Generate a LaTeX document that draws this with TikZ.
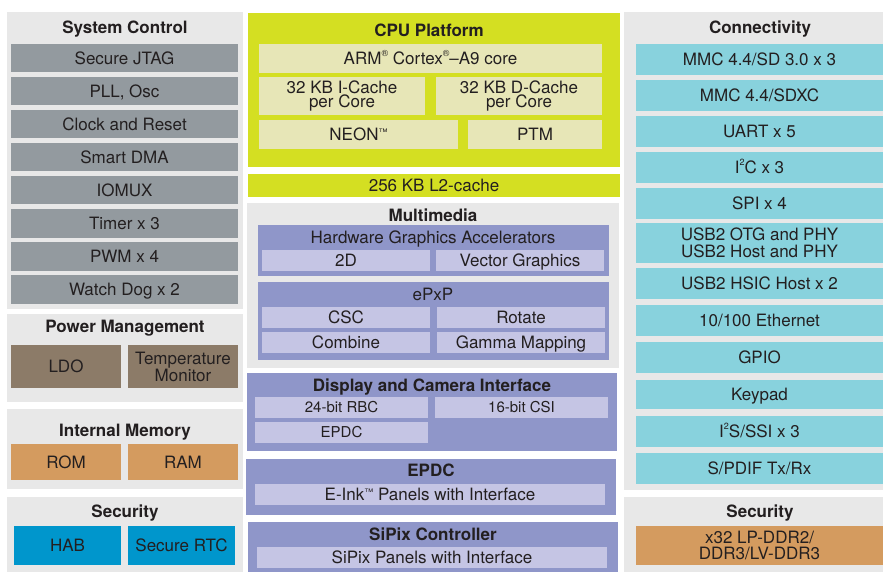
\documentclass[tikz,border=0pt]{standalone}
\usepackage{fontspec}
\setmainfont{TeX Gyre Heros}
\definecolor{panelbg}{HTML}{E8E8E8}
\definecolor{grayb}{HTML}{939A9F}
\definecolor{yel}{HTML}{D4DF22}
\definecolor{lyel}{HTML}{E7E6B7}
\definecolor{purp}{HTML}{8F96C9}
\definecolor{lpurp}{HTML}{C5C5E4}
\definecolor{brown}{HTML}{8C7B68}
\definecolor{orng}{HTML}{D49B5F}
\definecolor{blu}{HTML}{0096CC}
\definecolor{cyn}{HTML}{88D2DD}
\definecolor{txt}{HTML}{231F20}
\tikzset{
  base/.style={inner sep=0pt, outer sep=0pt, draw=none, text=txt, font=\fontsize{17}{17}\selectfont, align=center},
  one/.style={text height=12.2pt, text depth=0pt},
  panel/.style={fill=panelbg},
  graybox/.style={fill=grayb, one},
  yelbox/.style={fill=yel},
  lyelbox/.style={fill=lyel},
  purpbox/.style={fill=purp},
  lpurpbox/.style={fill=lpurp, one},
  brownbox/.style={fill=brown},
  orngbox/.style={fill=orng},
  blubox/.style={fill=blu, one},
  cynbox/.style={fill=cyn, one},
  ttlb/.style={font=\fontsize{17}{17}\selectfont\bfseries},
  small/.style={font=\fontsize{15}{15}\selectfont, text height=10.8pt, text depth=0pt},
}
\newcommand\bx[7]{\node[base,#2,anchor=north west,minimum width={(#5-#3)*1pt},minimum height={(#6-#4)*1pt}] (#1) at (#3,#4) {#7};}
\newcommand\ttl[4]{\node[base,one,#2] (#1) at (#3) {#4};}
\newcommand\rsup[1]{\raisebox{0.45em}{\fontsize{9}{9}\selectfont #1}}
\newcommand\tmk{\raisebox{5pt}{\fontsize{9}{9}\selectfont ™}}
\begin{document}
\begin{tikzpicture}[x=1pt,y=-1pt]
\useasboundingbox (0,0) rectangle (883,572);
% ---------- left column ----------
\bx{sysctl}{panel}{7}{12}{243}{309}{}
\ttl{sysctlT}{ttlb}{125,27.5}{System Control}
\bx{jtag}{graybox}{11}{44}{238}{72.5}{Secure JTAG}
\bx{pll}{graybox}{11}{77}{238}{105.5}{PLL, Osc}
\bx{clk}{graybox}{11}{110}{238}{138.5}{Clock and Reset}
\bx{dma}{graybox}{11}{143}{238}{171.5}{Smart DMA}
\bx{iomux}{graybox}{11}{176}{238}{204.5}{IOMUX}
\bx{timer}{graybox}{11}{209}{238}{237.5}{Timer x 3}
\bx{pwm}{graybox}{11}{242}{238}{270.5}{PWM x 4}
\bx{wdog}{graybox}{11}{275}{238}{303.5}{Watch Dog x 2}

\bx{power}{panel}{7}{314}{243}{402}{}
\ttl{powerT}{ttlb}{125,326.5}{Power Management}
\bx{ldo}{brownbox,one}{11}{345}{121}{388}{LDO}
\bx{temp}{brownbox,font=\fontsize{17}{16}\selectfont}{128}{345}{238}{388}{Temperature\\Monitor}

\bx{intmem}{panel}{7}{409}{243}{489}{}
\ttl{intmemT}{ttlb}{125,430.5}{Internal Memory}
\bx{rom}{orngbox,one}{11}{444}{121}{480}{ROM}
\bx{ram}{orngbox,one}{128}{444}{238}{480}{RAM}

\bx{secL}{panel}{7}{497}{243}{572}{}
\ttl{secLT}{ttlb}{125,511}{Security}
\bx{hab}{blubox}{14}{526}{121}{565}{HAB}
\bx{rtc}{blubox}{128}{526}{235}{565}{Secure RTC}

% ---------- center column ----------
\bx{cpu}{yelbox}{248}{13}{620}{167}{}
\ttl{cpuT}{ttlb}{429,30.5}{CPU Platform}
\bx{arm}{lyelbox,one}{259}{44}{602}{72.7}{ARM\rsup{®} Cortex\rsup{®}–A9 core}
\bx{icache}{lyelbox,font=\fontsize{17}{14.8}\selectfont}{259}{77}{425}{115}{32 KB I-Cache\\per Core}
\bx{dcache}{lyelbox,font=\fontsize{17}{14.8}\selectfont}{436}{77}{602}{115}{32 KB D-Cache\\per Core}
\bx{neon}{lyelbox,one}{259}{120}{458}{148.7}{NEON\tmk}
\bx{ptm}{lyelbox,one}{468}{120}{602}{148.7}{PTM}
\bx{l2}{yelbox,one}{248}{174}{620}{197}{256 KB L2-cache}

\bx{mm}{panel}{247}{203}{619}{368}{}
\ttl{mmT}{ttlb}{433,215}{Multimedia}
\bx{hwga}{purpbox}{258}{225}{609}{276}{}
\ttl{hwgaT}{}{433,237.5}{Hardware Graphics Accelerators}
\bx{d2}{lpurpbox}{262}{250}{430}{271}{2D}
\bx{vg}{lpurpbox}{436}{250}{604}{271}{Vector Graphics}
\bx{epxp}{purpbox}{258}{282}{609}{360}{}
\ttl{epxpT}{}{433,294.5}{ePxP}
\bx{csc}{lpurpbox}{262}{307}{430}{328}{CSC}
\bx{rot}{lpurpbox}{437}{307}{605}{328}{Rotate}
\bx{comb}{lpurpbox}{262}{332}{430}{353}{Combine}
\bx{gam}{lpurpbox}{437}{332}{605}{353}{Gamma Mapping}

\bx{dci}{purpbox}{247}{373}{617}{451}{}
\ttl{dciT}{ttlb}{432,385}{Display and Camera Interface}
\bx{rbc}{lpurpbox,small}{255}{397}{428}{418}{24-bit RBC}
\bx{csi}{lpurpbox,small}{435}{397}{608}{418}{16-bit CSI}
\bx{epdcs}{lpurpbox,small}{255}{422}{428}{443}{EPDC}

\bx{epdc}{purpbox}{246}{459}{616}{515}{}
\ttl{epdcT}{ttlb}{431,470}{EPDC}
\bx{eink}{lpurpbox}{255}{484}{605}{505}{E-Ink\tmk\ Panels with Interface}

\bx{sipix}{purpbox}{248}{522}{618}{572}{}
\ttl{sipixT}{ttlb}{433,534}{SiPix Controller}
\bx{sipixp}{lpurpbox}{257}{547}{607}{568}{SiPix Panels with Interface}

% ---------- right column ----------
\bx{conn}{panel}{624}{12}{883}{490}{}
\ttl{connT}{ttlb}{760,27.5}{Connectivity}
\bx{mmc1}{cynbox}{636}{44}{883}{74.7}{MMC 4.4/SD 3.0 x 3}
\bx{mmc2}{cynbox}{636}{80}{883}{110.7}{MMC 4.4/SDXC}
\bx{uart}{cynbox}{636}{116}{883}{146.7}{UART x 5}
\bx{i2c}{cynbox}{636}{152}{883}{182.7}{I\rsup{2}C x 3}
\bx{spi}{cynbox}{636}{188}{883}{218.7}{SPI x 4}
\bx{usb}{fill=cyn,font=\fontsize{17}{16.5}\selectfont}{636}{223}{883}{262.7}{USB2 OTG and PHY\\USB2 Host and PHY}
\bx{hsic}{cynbox}{636}{268}{883}{298.7}{USB2 HSIC Host x 2}
\bx{eth}{cynbox}{636}{305}{883}{335.7}{10/100 Ethernet}
\bx{gpio}{cynbox}{636}{342}{883}{372.7}{GPIO}
\bx{keypad}{cynbox}{636}{380}{883}{408.7}{Keypad}
\bx{i2s}{cynbox}{636}{416}{883}{446.7}{I\rsup{2}S/SSI x 3}
\bx{spdif}{cynbox}{636}{453}{883}{483.7}{S/PDIF Tx/Rx}

\bx{secR}{panel}{624}{497}{883}{572}{}
\ttl{secRT}{ttlb}{760,511}{Security}
\bx{ddr}{orngbox,font=\fontsize{17}{16}\selectfont}{636}{526}{883}{565}{x32 LP-DDR2/\\DDR3/LV-DDR3}
\end{tikzpicture}
\end{document}
